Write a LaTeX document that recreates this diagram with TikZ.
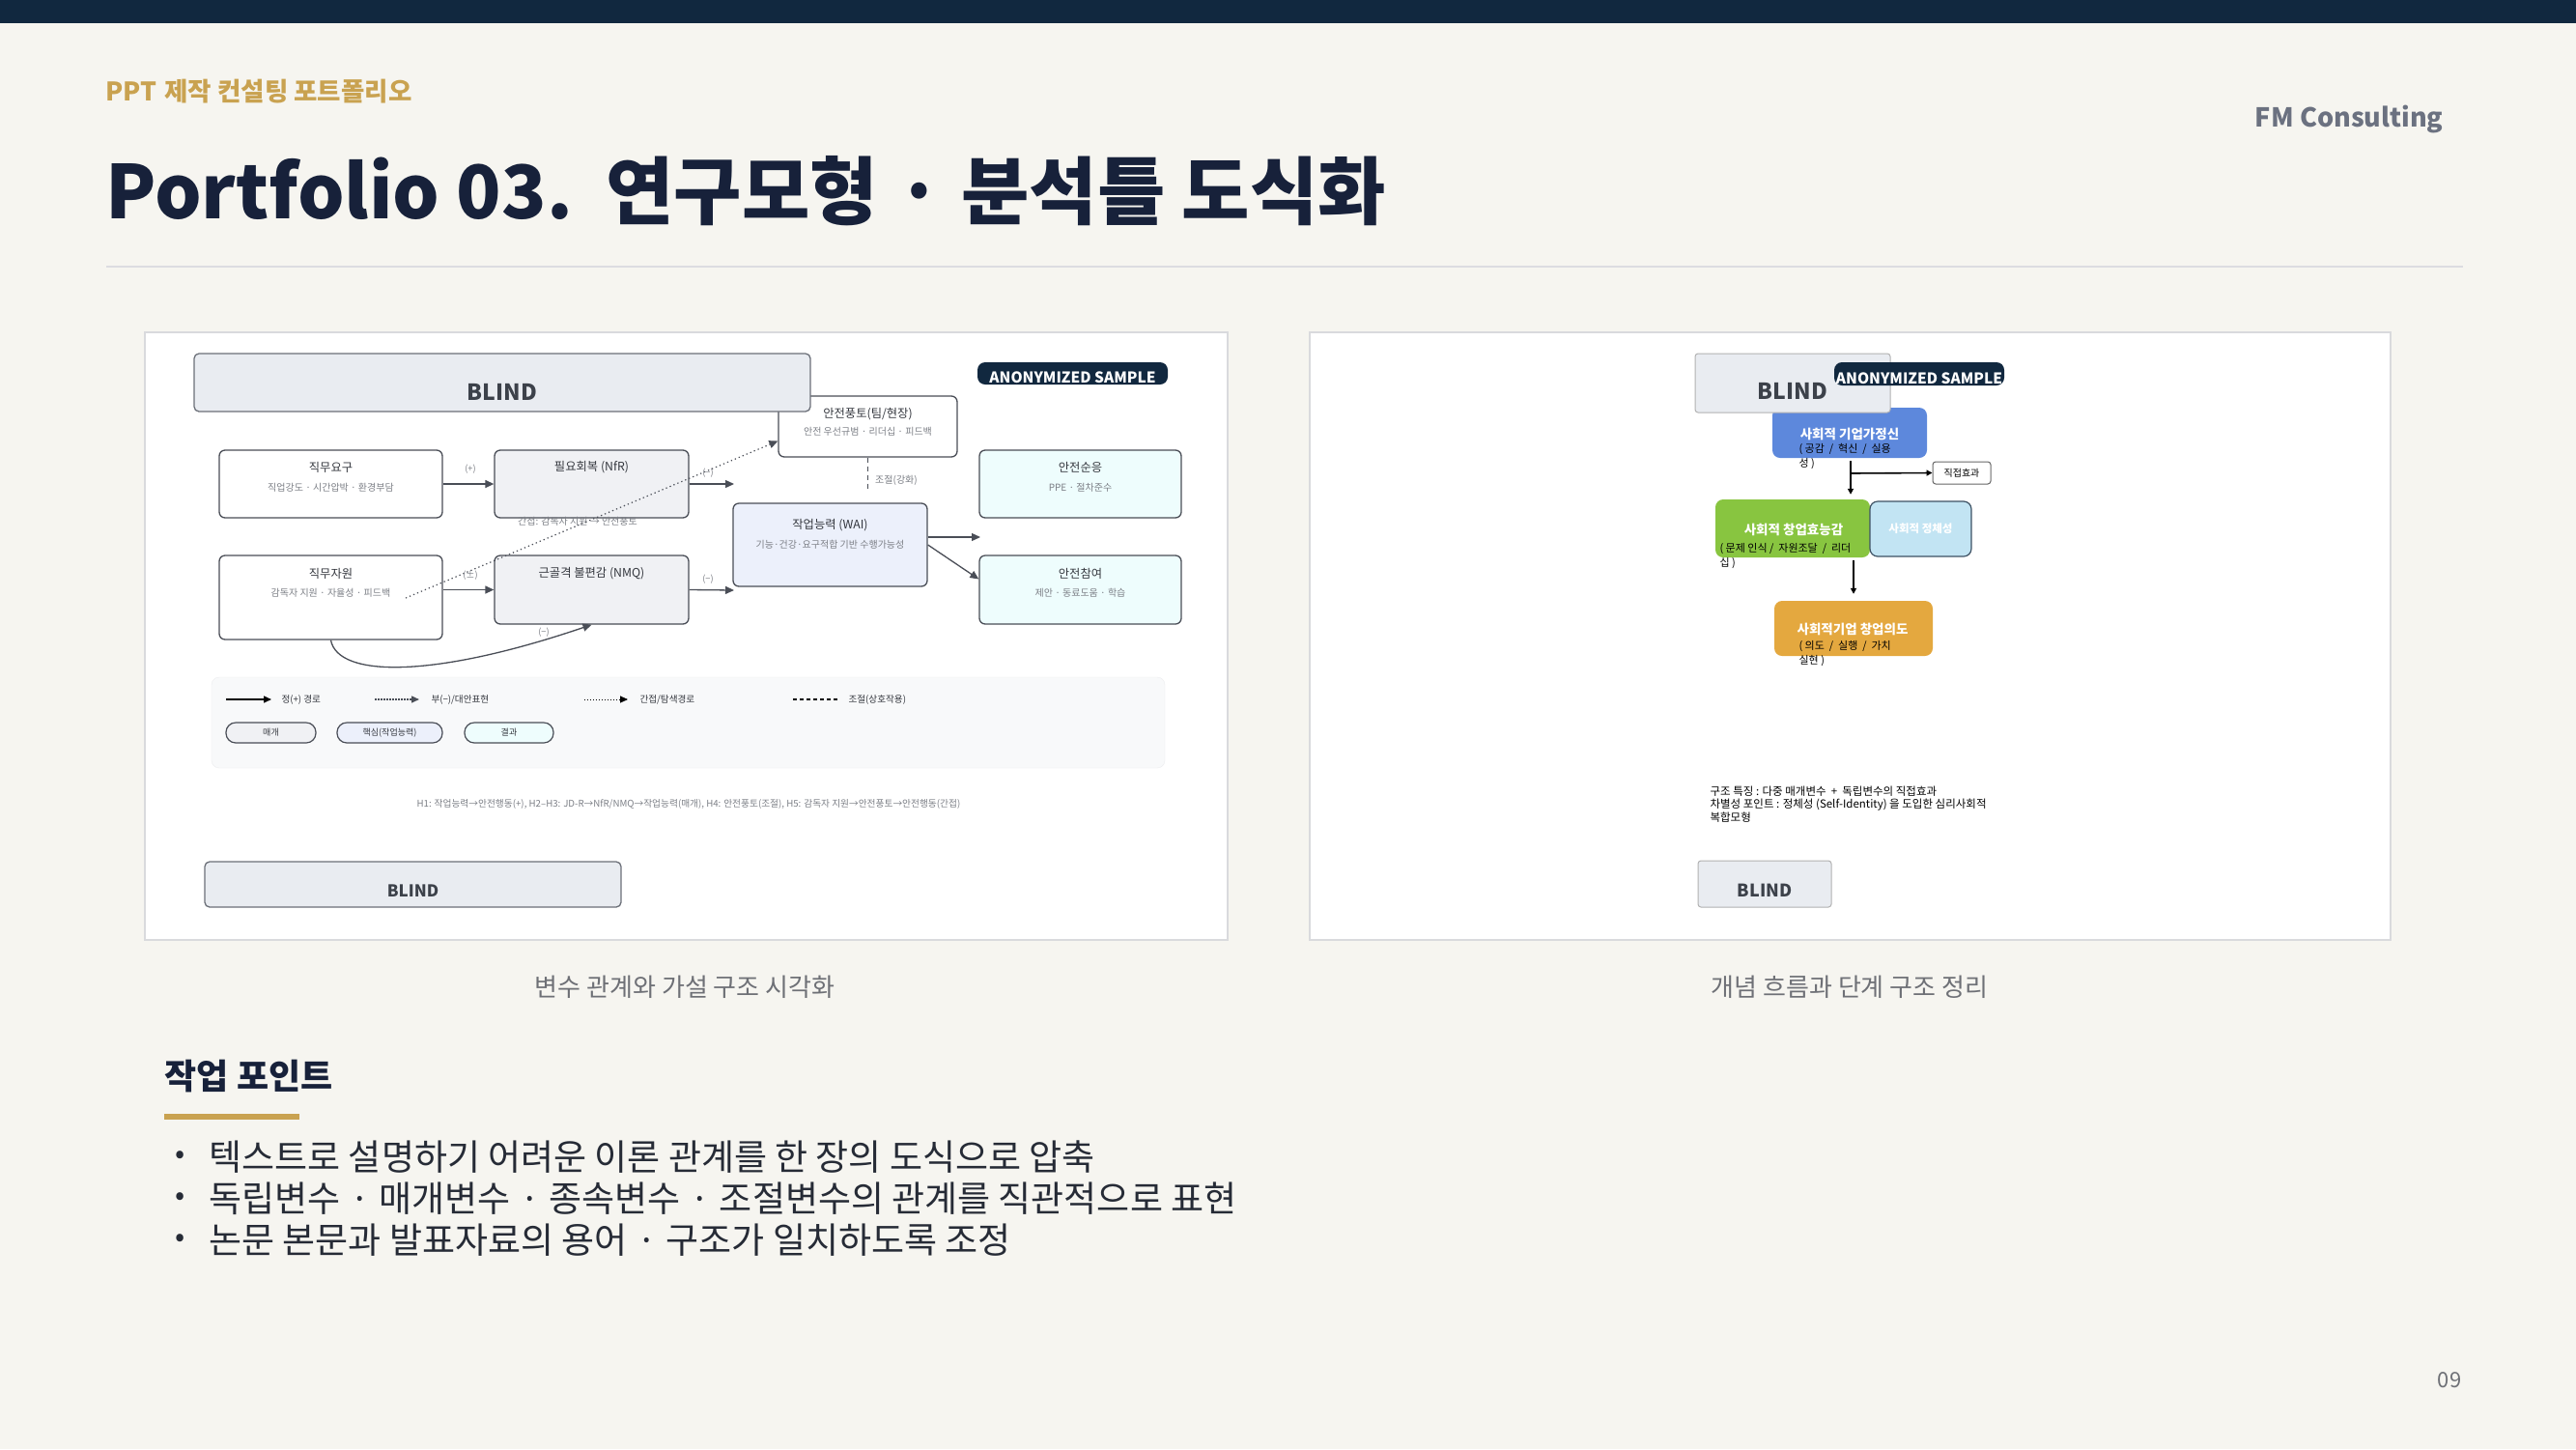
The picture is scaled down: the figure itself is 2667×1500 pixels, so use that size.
\documentclass[tikz,border=0pt]{standalone}
\usepackage{fontspec}
\setmainfont{Noto Sans CJK KR}
\usetikzlibrary{arrows.meta,positioning}

\definecolor{pagebg}{HTML}{F6F5F0}
\definecolor{navy}{HTML}{11283F}
\definecolor{gold}{HTML}{C9A250}
\definecolor{titlenavy}{HTML}{17213A}
\definecolor{rulegray}{HTML}{DCDCE1}
\definecolor{panelline}{HTML}{D9DADD}
\definecolor{capgray}{HTML}{6E7076}
\definecolor{bodyink}{HTML}{262B36}
\definecolor{boxline}{HTML}{4A4E57}
\definecolor{ttlink}{HTML}{34373E}
\definecolor{subink}{HTML}{7C7F86}
\definecolor{grayfill}{HTML}{F0F1F4}
\definecolor{waifill}{HTML}{ECF0FB}
\definecolor{cyanfill}{HTML}{EEFDFD}
\definecolor{blindfill}{HTML}{E9ECF1}
\definecolor{blindline}{HTML}{6C7079}
\definecolor{blindink}{HTML}{3C414A}
\definecolor{legfill}{HTML}{F8F9FA}
\definecolor{legline}{HTML}{ECEDEF}
\definecolor{seblue}{HTML}{5D88DC}
\definecolor{effgreen}{HTML}{88C540}
\definecolor{idnblue}{HTML}{C2E4F3}
\definecolor{idnline}{HTML}{3E5264}
\definecolor{intorange}{HTML}{E4A83F}
\definecolor{fmgray}{HTML}{6B7180}

\newcommand\mdot{\hspace{0.26em}·\hspace{0.26em}}

\tikzset{
  panel/.style={draw=panelline, line width=1.2pt, fill=white, inner sep=0pt},
  vbox/.style={draw=boxline, line width=1.3pt, rounded corners=6pt, fill=white, inner sep=0pt},
  blindbox/.style={draw=blindline, line width=1.3pt, rounded corners=5pt, fill=blindfill, inner sep=0pt},
  blindtxt/.style={font=\bfseries\fontsize{23}{26}\selectfont, text=blindink},
  tagbox/.style={fill=navy, rounded corners=8pt, inner sep=0pt},
  tagtxt/.style={font=\bfseries\fontsize{15.5}{18}\selectfont, text=white},
  vttl/.style={font=\fontsize{12.3}{15}\selectfont, text=ttlink},
  vsub/.style={font=\fontsize{10}{12}\selectfont, text=subink},
  sign/.style={font=\fontsize{9.2}{11}\selectfont, text=subink},
  legtxt/.style={font=\fontsize{9.6}{11}\selectfont, text=ttlink, anchor=west},
  pill/.style={draw=boxline, line width=1.2pt, rounded corners=10pt, inner sep=0pt,
    minimum height=21pt, font=\fontsize{9}{10}\selectfont, text=ttlink},
  posarrow/.style={draw=boxline, line width=1.3pt, -{Triangle[length=9pt,width=8pt]}},
  indarrow/.style={draw=boxline, line width=1.2pt, dash pattern=on 1.3pt off 3pt,
    -{Triangle[length=9pt,width=8pt]}},
  negarrow/.style={draw=boxline, line width=1.4pt, dash pattern=on 1.5pt off 1.5pt,
    -{Triangle[length=8pt,width=7pt]}},
  modline/.style={draw=boxline, line width=1.1pt, dash pattern=on 5pt off 4pt},
  flowbox/.style={rounded corners=8pt, inner sep=0pt},
  flowttl/.style={font=\bfseries\fontsize{13.5}{16}\selectfont, text=white},
  flowsub/.style={font=\fontsize{11}{15}\selectfont, text=black, align=left, anchor=north west},
  flowarrow/.style={draw=black, line width=1.8pt, -{Triangle[length=6pt,width=6pt]}},
  bigblind/.style={draw=black!30, line width=1pt, rounded corners=3pt, fill=blindfill, inner sep=0pt},
  bullet/.style={font=\fontsize{37}{42}\selectfont, text=bodyink, anchor=west},
}

\begin{document}
\begin{tikzpicture}[x=1pt, y=-1pt]
  % page
  \fill[pagebg] (0,0) rectangle (2667,1500);
  \fill[navy] (0,0) rectangle (2667,24);
  \node[anchor=base west, font=\bfseries\fontsize{26.5}{30}\selectfont, text=gold] (kicker) at (106,104) {PPT\hspace{0.3em}제작 컨설팅 포트폴리오};
  \node[anchor=base west, font=\bfseries\fontsize{76.5}{80}\selectfont, text=titlenavy] (title) at (106,226) {Portfolio 03.\hspace{0.45em}연구모형\mdot 분석틀 도식화};
  \node[anchor=base east, font=\bfseries\fontsize{27}{31}\selectfont, text=fmgray] (brand) at (2533,131) {FM Consulting};
  \draw[rulegray, line width=2pt] (110,276) -- (2550,276);

  % panels
  \node[panel, minimum width=1121pt, minimum height=629pt] (panelL) at (710.5,658.5) {};
  \node[panel, minimum width=1119pt, minimum height=629pt] (panelR) at (1915.5,658.5) {};
  \node[font=\fontsize{26}{30}\selectfont, text=capgray] (capL) at (709,1022) {변수 관계와 가설 구조 시각화};
  \node[font=\fontsize{26}{30}\selectfont, text=capgray] (capR) at (1915,1022) {개념 흐름과 단계 구조 정리};

  % left: research model
  \node[vbox, minimum width=231pt, minimum height=70pt] (demand) at (342.5,501) {};
  \node[vttl] (demandT) at (342.5,484) {직무요구};
  \node[vsub] (demandS) at (342.5,505) {직업강도 · 시간압박 · 환경부담};
  \node[vbox, fill=grayfill, minimum width=201pt, minimum height=70pt] (nfr) at (612.5,501) {};
  \node[vttl] (nfrT) at (612.5,484) {필요회복 (NfR)};
  \node[vsub] (nfrN) at (598,540) {간접: 감독자 지원 → 안전풍토};
  \node[vbox, minimum width=231pt, minimum height=87pt] (resource) at (342.5,618.5) {};
  \node[vttl] (resourceT) at (342.5,594) {직무자원};
  \node[vsub] (resourceS) at (342.5,614) {감독자 지원 · 자율성 · 피드백};
  \node[vbox, fill=grayfill, minimum width=201pt, minimum height=71pt] (nmq) at (612.5,610.5) {};
  \node[vttl] (nmqT) at (612.5,594) {근골격 불편감 (NMQ)};
  \node[vbox, minimum width=185pt, minimum height=63pt] (climate) at (898.5,441.5) {};
  \node[vttl] (climateT) at (898.5,429) {안전풍토(팀/현장)};
  \node[vsub] (climateS) at (898.5,447) {안전 우선규범 · 리더십 · 피드백};
  \node[vbox, fill=waifill, minimum width=201pt, minimum height=86pt] (wai) at (859.5,564) {};
  \node[vttl] (waiT) at (859.5,544) {작업능력 (WAI)};
  \node[vsub] (waiS) at (859.5,564) {기능·건강·요구적합 기반 수행가능성};
  \node[vbox, fill=cyanfill, minimum width=209pt, minimum height=70pt] (comply) at (1118.5,501) {};
  \node[vttl] (complyT) at (1118.5,484) {안전순응};
  \node[vsub] (complyS) at (1118.5,505) {PPE · 절차준수};
  \node[vbox, fill=cyanfill, minimum width=209pt, minimum height=71pt] (partic) at (1118.5,610.5) {};
  \node[vttl] (particT) at (1118.5,594) {안전참여};
  \node[vsub] (particS) at (1118.5,614) {제안 · 동료도움 · 학습};
  \node[blindbox, minimum width=638pt, minimum height=60pt] (blindTop) at (520,396) {};
  \node[blindtxt] (blindTopT) at (520,406) {BLIND};
  \node[tagbox, minimum width=197pt, minimum height=23pt] (tagL) at (1110.5,386.5) {};
  \node[tagtxt] (tagLT) at (1110.5,391) {ANONYMIZED SAMPLE};

  \coordinate (nfrEnd) at (760,501);
  \coordinate (nmqEnd) at (760,611);
  \coordinate (waiEnd) at (1015,556);
  \coordinate (dotStart) at (420,619);
  \coordinate (modEnd) at (898.5,509);
  \path[posarrow] (demand) -- (nfr);
  \path[posarrow] (resource.east |- nmq.west) -- (nmq.west);
  \path[posarrow] (nfr.east) -- (nfrEnd);
  \path[posarrow] (nmq.east) -- (nmqEnd);
  \path[posarrow] ([yshift=8pt]wai.east) -- (waiEnd);
  \path[posarrow] (wai.east) -- ([yshift=11pt]partic.west);
  \path[posarrow] (resource.south) .. controls (350,702) and (450,702) .. (nmq.south);
  \path[indarrow] (dotStart) -- ([yshift=-15pt]climate.west);
  \path[modline] (climate.south) -- (modEnd);
  \node[sign] (s1) at (487,486) {(+)};
  \node[sign] (s2) at (487,596) {(±)};
  \node[sign] (s3) at (733,490) {(−)};
  \node[sign] (s4) at (733,600) {(−)};
  \node[sign] (s5) at (563,655) {(−)};
  \node[vsub] (modT) at (928,497) {조절(강화)};

  % legend
  \node[draw=legline, fill=legfill, rounded corners=8pt, minimum width=987pt, minimum height=94pt] (legend) at (712.5,748) {};
  \coordinate (la1) at (234,724); \coordinate (lb1) at (281,724);
  \coordinate (la2) at (388,724); \coordinate (lb2) at (434,724);
  \coordinate (la3) at (605,724); \coordinate (lb3) at (650,724);
  \coordinate (la4) at (821,724); \coordinate (lb4) at (867,724);
  \path[draw=black, line width=1.4pt, -{Triangle[length=8pt,width=7pt]}] (la1) -- (lb1);
  \path[negarrow] (la2) -- (lb2);
  \path[draw=black, line width=0.9pt, dash pattern=on 1pt off 2pt, -{Triangle[length=8pt,width=7pt]}] (la3) -- (lb3);
  \path[draw=black, line width=1.3pt, dash pattern=on 4pt off 3pt] (la4) -- (lb4);
  \node[legtxt] (lt1) at (288,724) {정(+) 경로};
  \node[legtxt] (lt2) at (443,724) {부(−)/대안표현};
  \node[legtxt] (lt3) at (659,724) {간접/탐색경로};
  \node[legtxt] (lt4) at (875,724) {조절(상호작용)};
  \node[pill, fill=grayfill, minimum width=93pt] (pmed) at (280.5,758.5) {매개};
  \node[pill, fill=waifill, minimum width=109pt] (pcore) at (403.5,758.5) {핵심(작업능력)};
  \node[pill, fill=cyanfill, minimum width=92pt] (pout) at (527,758.5) {결과};
  \node[font=\fontsize{9.7}{11}\selectfont, text=subink] (hyp) at (713,832) {H1: 작업능력→안전행동(+), H2–H3: JD-R→NfR/NMQ→작업능력(매개), H4: 안전풍토(조절), H5: 감독자 지원→안전풍토→안전행동(간접)};
  \node[blindbox, minimum width=431pt, minimum height=47pt] (blindBot) at (427.5,915.5) {};
  \node[blindtxt, font=\bfseries\fontsize{17}{20}\selectfont] (blindBotT) at (427.5,922.5) {BLIND};

  % right: concept flow
  \node[flowbox, fill=seblue, minimum width=160pt, minimum height=52pt] (se) at (1915,448) {};
  \node[flowttl] (seT) at (1915,449) {사회적 기업가정신};
  \node[flowsub] (seS) at (1859,456) {( 공감 \ / \ 혁신 \ / \ 실용\\성 )};
  \node[bigblind, minimum width=202pt, minimum height=61pt] (blindB) at (1856,396.5) {};
  \node[blindtxt] (blindBT) at (1856,405) {BLIND};
  \node[tagbox, minimum width=176pt, minimum height=24pt] (tagR) at (1987,387) {};
  \node[tagtxt] (tagRT) at (1987,391.5) {ANONYMIZED SAMPLE};
  \node[draw=black!60, line width=1pt, fill=white, rounded corners=3pt, minimum width=60pt, minimum height=23pt, font=\fontsize{10}{12}\selectfont] (direct) at (2031,489.5) {직접효과};
  \node[flowbox, fill=effgreen, minimum width=160pt, minimum height=60pt] (eff) at (1856,547) {};
  \node[flowttl] (effT) at (1857,548) {사회적 창업효능감};
  \node[flowsub] (effS) at (1777,559) {( 문제 인식 / \ 자원조달 \ / \ 리더\\십 )};
  \node[flowbox, fill=idnblue, draw=idnline, line width=1.2pt, minimum width=105pt, minimum height=57pt, font=\bfseries\fontsize{11.5}{14}\selectfont, text=white] (idn) at (1988.5,547.5) {사회적 정체성};
  \node[flowbox, fill=intorange, minimum width=164pt, minimum height=57pt] (intent) at (1919,650.5) {};
  \node[flowttl] (intentT) at (1918,651) {사회적기업 창업의도};
  \node[flowsub] (intentS) at (1859,660) {( 의도 \ / \ 실행 \ / \ 가치\\실현 )};
  \coordinate (branch) at (1916,490);
  \path[flowarrow] ([yshift=-3pt]se.south -| branch) -- ([yshift=5pt]eff.north -| branch);
  \path[draw=black, line width=1.6pt, -{Triangle[length=6pt,width=6pt]}] (branch) -- (direct.west);
  \path[flowarrow] (eff.south -| intent.north) ++(0,3) -- ([yshift=7pt]intent.north);
  \node[font=\fontsize{11.5}{13.5}\selectfont, align=left, anchor=north west] (note) at (1767,810) {구조 특징 : 다중 매개변수 \ + \ 독립변수의 직접효과\\차별성 포인트 : 정체성 (Self-Identity) 을 도입한 심리사회적\\복합모형};
  \node[bigblind, minimum width=138pt, minimum height=48pt] (blindC) at (1827,915) {};
  \node[blindtxt, font=\bfseries\fontsize{18}{21}\selectfont] (blindCT) at (1827,922) {BLIND};

  % work points
  \node[anchor=west, font=\bfseries\fontsize{36}{40}\selectfont, text=titlenavy] (points) at (167,1114) {작업 포인트};
  \draw[gold, line width=6pt] (170,1156) -- (310,1156);
  \node[bullet, font=\fontsize{30}{34}\selectfont] (b1) at (178,1198) {•};
  \node[bullet] (p1) at (213,1198) {텍스트로 설명하기 어려운 이론 관계를 한 장의 도식으로 압축};
  \node[bullet, font=\fontsize{30}{34}\selectfont] (b2) at (178,1241) {•};
  \node[bullet] (p2) at (213,1241) {독립변수\mdot 매개변수\mdot 종속변수\mdot 조절변수의 관계를 직관적으로 표현};
  \node[bullet, font=\fontsize{30}{34}\selectfont] (b3) at (178,1284) {•};
  \node[bullet] (p3) at (213,1284) {논문 본문과 발표자료의 용어\mdot 구조가 일치하도록 조정};
  \node[font=\fontsize{22}{26}\selectfont, text=capgray] (pageno) at (2536,1429) {09};
\end{tikzpicture}
\end{document}
